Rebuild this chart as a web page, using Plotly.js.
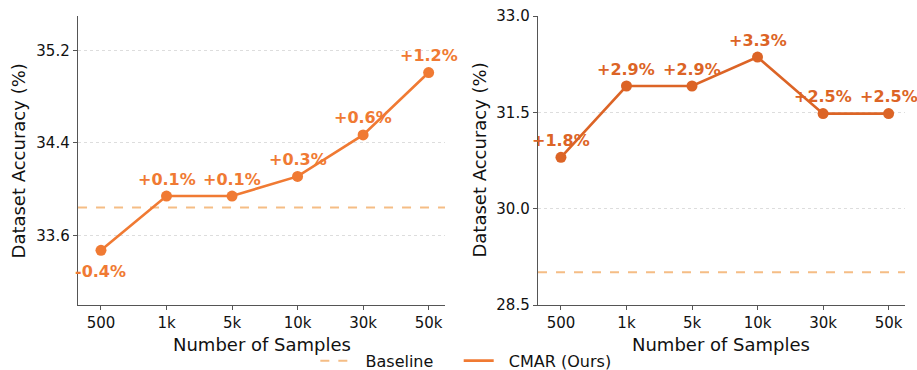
<!DOCTYPE html>
<html><head><meta charset="utf-8">
<script src="https://cdn.plot.ly/plotly-3.0.1.min.js"></script>
<style>body{margin:0;background:#fff}#c{width:917px;height:370px}</style>
</head><body><div id="c"></div>
<script>
const categories = ["500","1k","5k","10k","30k","50k"];
const leftValues = [33.47, 33.94, 33.94, 34.11, 34.47, 35.01];
const leftBaseline = 33.84;
const leftLabels = ["-0.4%","+0.1%","+0.1%","+0.3%","+0.6%","+1.2%"];
const rightValues = [30.80, 31.91, 31.91, 32.36, 31.48, 31.48];
const rightBaseline = 29.01;
const rightLabels = ["+1.8%","+2.9%","+2.9%","+3.3%","+2.5%","+2.5%"];
const leftTicks = [33.6, 34.4, 35.2];
const rightTicks = [28.5, 30.0, 31.5, 33.0];
const legendNames = ["Baseline", "CMAR (Ours)"];
const xTitle = "Number of Samples";
const yTitle = "Dataset Accuracy (%)";

const cLeft = "#f07a33", cRight = "#dc6426", cBase = "#f5bd85";
const font = "DejaVu Sans, sans-serif";
const nb = "\u00a0";

function base(vals, xa, ya){
  return {x:[-0.35, 5.25], y:[vals, vals], xaxis:xa, yaxis:ya, mode:"lines",
    line:{color:cBase, width:2, dash:"dash"}, showlegend:false,
    cliponaxis:false, hoverinfo:"skip"};
}
const idx = categories.map((c,i)=>i);
const traces = [
  base(leftBaseline, "x", "y"),
  {x:idx, y:leftValues, xaxis:"x", yaxis:"y", mode:"lines+markers",
   line:{color:cLeft, width:2.6}, marker:{color:cLeft, size:11}, showlegend:false, cliponaxis:false},
  base(rightBaseline, "x2", "y2"),
  {x:idx, y:rightValues, xaxis:"x2", yaxis:"y2", mode:"lines+markers",
   line:{color:cRight, width:2.6}, marker:{color:cRight, size:11}, showlegend:false, cliponaxis:false},
  // legend entries (line-only keys)
  {x:[null], y:[null], xaxis:"x", yaxis:"y", mode:"lines", name:nb+nb+legendNames[0]+nb+nb+nb+nb,
   line:{color:cBase, width:2, dash:"dash"}, showlegend:true},
  {x:[null], y:[null], xaxis:"x", yaxis:"y", mode:"lines", name:nb+nb+legendNames[1],
   line:{color:cLeft, width:2.6}, showlegend:true}
];

const xDom1 = [0.0851,0.4853], xDom2 = [0.5867,0.9869];
const annotations = [];
leftValues.forEach((v,i)=>annotations.push({x:i, y:v, xref:"x", yref:"y", text:"<b>"+leftLabels[i]+"</b>",
  showarrow:false, yshift: leftLabels[i].startsWith("-") ? -21 : 17, font:{family:font, size:16, color:cLeft}}));
rightValues.forEach((v,i)=>annotations.push({x:i, y:v, xref:"x2", yref:"y2", text:"<b>"+rightLabels[i]+"</b>",
  showarrow:false, yshift:17, font:{family:font, size:16, color:cRight}}));
// axis titles
[xDom1, xDom2].forEach(d=>annotations.push({x:(d[0]+d[1])/2, y:-0.135, xref:"paper", yref:"paper",
  text:xTitle, showarrow:false, xanchor:"center", yanchor:"middle", font:{family:font, size:18, color:"#111"}}));
[0.0207, 0.5224].forEach(px=>annotations.push({x:px, y:0.5, xref:"paper", yref:"paper",
  text:yTitle, textangle:-90, showarrow:false, xanchor:"center", yanchor:"middle", font:{family:font, size:18, color:"#111"}}));

function xax(dom, anchor){
  return {domain:dom, anchor:anchor, range:[-0.35,5.25], tickmode:"array", tickvals:idx, ticktext:categories,
    showline:true, linecolor:"#555", linewidth:1.3, ticks:"outside", ticklen:4, tickcolor:"#555",
    showgrid:false, zeroline:false, tickfont:{family:font, size:15, color:"#111"}, automargin:false};
}
function yax(anchor, range, ticks){
  return {domain:[0,1], anchor:anchor, range:range, tickmode:"array", tickvals:ticks,
    ticktext:ticks.map(t=>t.toFixed(1)),
    showline:true, linecolor:"#555", linewidth:1.3, ticks:"outside", ticklen:4, tickcolor:"#555",
    showgrid:true, gridcolor:"#dddddd", griddash:"dot", gridwidth:1, zeroline:false, automargin:false,
    tickfont:{family:font, size:15, color:"#111"}};
}

const layout = {
  width:917, height:370, margin:{l:0, r:0, t:16, b:65},
  paper_bgcolor:"#fff", plot_bgcolor:"#fff", font:{family:font},
  xaxis: xax(xDom1, "y"),
  yaxis: yax("x", [32.996, 35.5], leftTicks),
  xaxis2: xax(xDom2, "y2"),
  yaxis2: yax("x2", [28.5, 33.0], rightTicks),
  annotations: annotations,
  showlegend:true,
  legend:{orientation:"h", xref:"container", yref:"container", x:0.508, xanchor:"center", y:0.025, yanchor:"middle",
    font:{family:font, size:16, color:"#111"}, bgcolor:"rgba(0,0,0,0)"},
};
Plotly.newPlot("c", traces, layout, {displayModeBar:false, staticPlot:true});
</script></body></html>
